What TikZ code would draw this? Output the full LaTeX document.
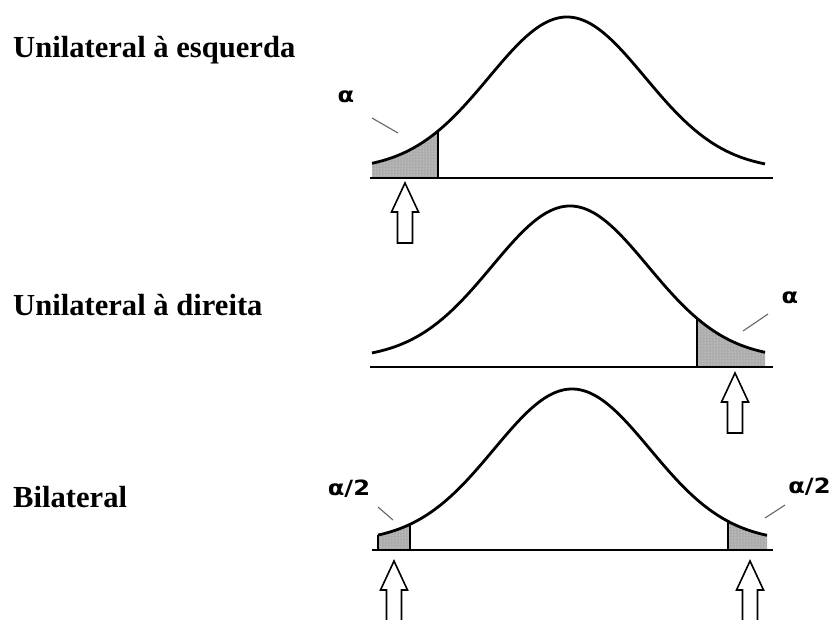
\documentclass[tikz,border=0pt]{standalone}
\usepackage{fontspec}
\usetikzlibrary{patterns}
\setmainfont{Liberation Serif}
\newfontfamily\labfont{DejaVu Sans}
\tikzset{
  declare function={g(\x,\c)=8+153*exp(-0.5*((\x-\c)/78)^2);},
  title/.style={anchor=base west,inner sep=0pt,font=\fontsize{30.6}{36}\selectfont\bfseries},
  lab/.style={inner sep=0pt,xscale=1.15,font=\labfont\fontsize{21}{24}\selectfont\bfseries},
  curve/.style={line width=2.8pt,line join=round},
  base/.style={line width=2pt},
  tail/.style={fill=gray!65,postaction={pattern=dots,pattern color=white!85!gray}},
  leader/.style={gray!80!black,line width=1.1pt},
  uparrow/.pic={\draw[fill=white,line width=1.6pt,line join=miter]
    (0,0) -- (13.5,29) -- (7.5,29) -- (7.5,60) -- (-7.5,60) -- (-7.5,29) -- (-13.5,29) -- cycle;}
}
\begin{document}
\begin{tikzpicture}[x=1pt,y=-1pt]
\clip (0,0) rectangle (834,619);
\fill[white] (0,0) rectangle (834,619);
% titles
\node[title] (t1) at (13,57) {Unilateral à esquerda};
\node[title] (t2) at (13,315) {Unilateral à direita};
\node[title] (t3) at (13,507) {Bilateral};
% curve 1 (left tail)
\fill[tail] (372,178) -- plot[domain=372:438,samples=30] (\x,{178-g(\x,567)}) -- (438,178) -- cycle;
\draw[line width=1.6pt] (438,178) -- (438,{178-g(438,567)});
\draw[base] (370,178) -- (773,178);
\draw[curve] plot[domain=372:765,samples=120,smooth] (\x,{178-g(\x,567)});
\node[lab] (a1) at (346,96.5) {α};
\coordinate (l1a) at (372,118);
\coordinate (l1b) at (398,133);
\draw[leader] (l1a) -- (l1b);
\pic at (405,183) {uparrow};
% curve 2 (right tail)
\fill[tail] (697,367) -- plot[domain=697:765,samples=30] (\x,{367-g(\x,570)}) -- (765,367) -- cycle;
\draw[line width=1.6pt] (697,367) -- (697,{367-g(697,570)});
\draw[base] (370,367) -- (773,367);
\draw[curve] plot[domain=372:765,samples=120,smooth] (\x,{367-g(\x,570)});
\node[lab] (a2) at (790,297.5) {α};
\coordinate (l2a) at (743,331);
\coordinate (l2b) at (768,314);
\draw[leader] (l2a) -- (l2b);
\pic at (735,373) {uparrow};
% curve 3 (both tails)
\fill[tail] (378,550) -- plot[domain=378:410,samples=20] (\x,{550-g(\x,572)}) -- (410,550) -- cycle;
\fill[tail] (728,550) -- plot[domain=728:767,samples=20] (\x,{550-g(\x,572)}) -- (767,550) -- cycle;
\draw[line width=1.6pt] (378,550) -- (378,{550-g(378,572)});
\draw[line width=1.6pt] (410,550) -- (410,{550-g(410,572)});
\draw[line width=1.6pt] (728,550) -- (728,{550-g(728,572)});
\draw[base] (372,550) -- (773,550);
\draw[curve] plot[domain=378:767,samples=120,smooth] (\x,{550-g(\x,572)});
\node[lab] (a3) at (349,489) {α/2};
\node[lab] (a4) at (809.5,487) {α/2};
\coordinate (l3a) at (378,507);
\coordinate (l3b) at (393,520);
\draw[leader] (l3a) -- (l3b);
\coordinate (l4a) at (765,518);
\coordinate (l4b) at (785,505);
\draw[leader] (l4a) -- (l4b);
\pic at (394,561) {uparrow};
\pic at (750,561) {uparrow};
\end{tikzpicture}
\end{document}
